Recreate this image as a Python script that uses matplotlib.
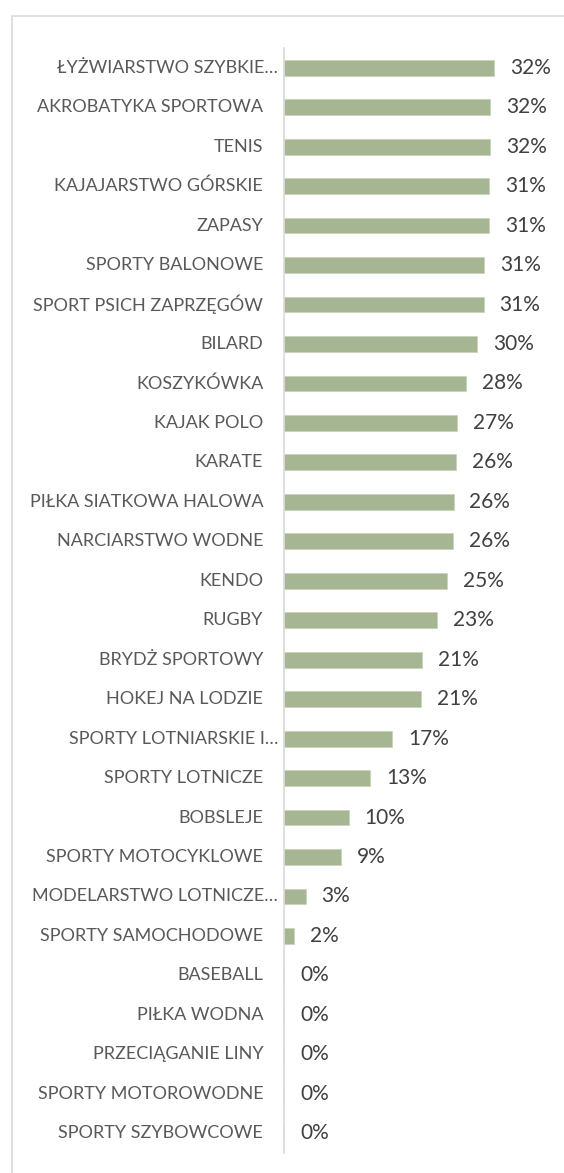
import matplotlib.pyplot as plt
from matplotlib.patches import Rectangle

plt.rcParams['font.family'] = ['Lato', 'DejaVu Sans']

sports = ['ŁYŻWIARSTWO SZYBKIE…', 'AKROBATYKA SPORTOWA', 'TENIS',
          'KAJAJARSTWO GÓRSKIE', 'ZAPASY', 'SPORTY BALONOWE',
          'SPORT PSICH ZAPRZĘGÓW', 'BILARD', 'KOSZYKÓWKA', 'KAJAK POLO',
          'KARATE', 'PIŁKA SIATKOWA HALOWA', 'NARCIARSTWO WODNE', 'KENDO',
          'RUGBY', 'BRYDŻ SPORTOWY', 'HOKEJ NA LODZIE',
          'SPORTY LOTNIARSKIE I…', 'SPORTY LOTNICZE', 'BOBSLEJE',
          'SPORTY MOTOCYKLOWE', 'MODELARSTWO LOTNICZE…',
          'SPORTY SAMOCHODOWE', 'BASEBALL', 'PIŁKA WODNA',
          'PRZECIĄGANIE LINY', 'SPORTY MOTOROWODNE', 'SPORTY SZYBOWCOWE']
share = [32.2, 31.6, 31.6, 31.4, 31.4, 30.7, 30.6, 29.6, 27.9, 26.6,
         26.4, 26.0, 25.9, 25.0, 23.4, 21.2, 21.0, 16.6, 13.2, 9.9,
         8.7, 3.3, 1.6, 0, 0, 0, 0, 0]

W, H = 564, 1173
fig = plt.figure(figsize=(W / 100, H / 100), dpi=100)
ax = fig.add_axes([284 / W, 20 / H, (555 - 284) / W, (1153 - 48) / H])

ypos = list(range(len(sports)))
bars = ax.barh(ypos, share, height=0.4, color='#A6B592',
               edgecolor='#C9D3BD', linewidth=0.6)
ax.bar_label(bars, labels=['%d%%' % round(v) for v in share], padding=11.5,
             fontsize=15, color='#404040')

# category labels, the cut ones sit closer to the axis
for i, name in enumerate(sports):
    gap = 4.3 if name.endswith('…') else 15
    ax.annotate(name, xy=(0, i), xytext=(-gap, 0), textcoords='offset points',
                ha='right', va='center', fontsize=13, color='#595959')

ax.set_ylim(len(sports) - 0.5, -0.5)
ax.set_xlim(0, (555 - 284) / 6.52)
ax.set_yticks([])
ax.set_xticks([])
for s in ['top', 'right', 'bottom']:
    ax.spines[s].set_visible(False)
ax.spines['left'].set_color('#D9D9D9')
ax.spines['left'].set_linewidth(1.2)

fig.patches.append(Rectangle((12 / W, -0.1), 1.2, (H - 16) / H + 0.1,
                             transform=fig.transFigure, fill=False,
                             edgecolor='#D9D9D9', linewidth=1.2))

fig.savefig('out.png', dpi=100)
